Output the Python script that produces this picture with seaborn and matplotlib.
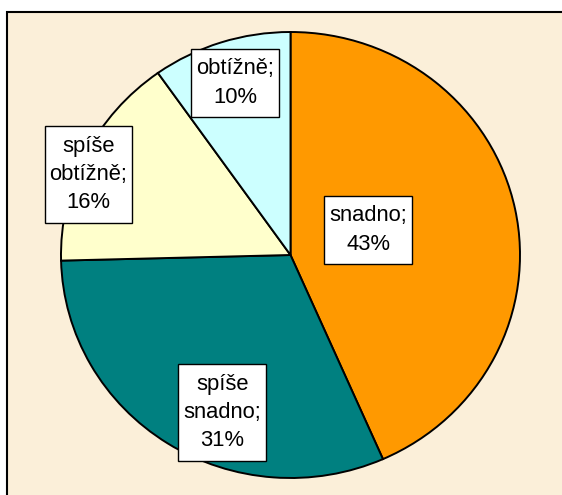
import matplotlib
matplotlib.use("Agg")
import matplotlib.pyplot as plt
import seaborn as sns
from matplotlib.patches import Rectangle

sns.set_theme(style="white")
plt.rcParams['font.family'] = ['Liberation Sans', 'DejaVu Sans']

# data
categories = ["snadno", "spíše snadno", "spíše obtížně", "obtížně"]
values = [43.4, 31.2, 15.6, 9.8]
label_lines = ["snadno;", "spíše\nsnadno;", "spíše\nobtížně;", "obtížně;"]
colors = ["#FF9900", "#008080", "#FFFFCC", "#CCFFFF"]

# layout: label box centres in data units of the pie axes
label_pos = [(0.339, 0.112), (-0.297, -0.706), (-0.880, 0.361), (-0.240, 0.771)]

W, H = 562, 495
fig = plt.figure(figsize=(W / 100, H / 100), dpi=100)
fig.patch.set_facecolor("white")

# chart area frame
fig.patches.append(Rectangle((7 / W, -0.05), 1.1, (H - 12) / H + 0.05,
                             transform=fig.transFigure, facecolor="#FBEFD9",
                             edgecolor="black", linewidth=1.5, zorder=-10))

ax = fig.add_axes([61 / W, 17 / H, 459 / W, 446 / H])
ax.set_zorder(5)
ax.patch.set_visible(False)
wedges, _ = ax.pie(values, colors=colors, startangle=90, counterclock=False,
                   wedgeprops=dict(edgecolor="black", linewidth=1.4))
ax.set_aspect("auto")
ax.set_xlim(-1, 1)
ax.set_ylim(-1, 1)
ax.axis("off")

total = sum(values)
texts = []
for txt, v, (x, y) in zip(label_lines, values, label_pos):
    s = f"{txt}\n{round(v / total * 100):d}%"
    t = ax.text(x, y, s, ha="center", va="center", fontsize=15.8, color="black",
                linespacing=1.45, multialignment="center", zorder=10,
                clip_on=False)
    texts.append(t)

fig.canvas.draw()
renderer = fig.canvas.get_renderer()
inv = ax.transAxes.inverted()
padx, pady = 5.0, 9.5
for t in texts:
    bb = t.get_window_extent(renderer)
    (x0, y0) = inv.transform((bb.x0 - padx, bb.y0 - pady))
    (x1, y1) = inv.transform((bb.x1 + padx, bb.y1 + pady))
    ax.add_patch(Rectangle((x0, y0), x1 - x0, y1 - y0, transform=ax.transAxes,
                           facecolor="white", edgecolor="black", linewidth=1.0,
                           zorder=9, clip_on=False))

fig.savefig("out.png", dpi=100)
